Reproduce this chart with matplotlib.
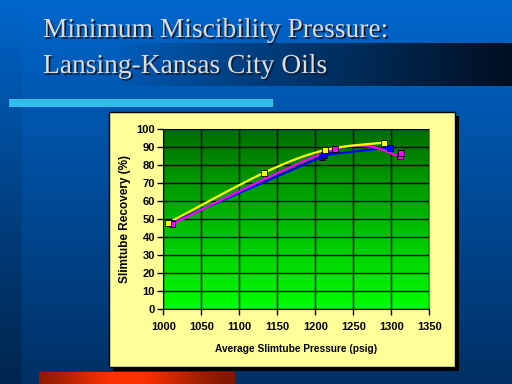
import matplotlib
matplotlib.use("Agg")
import matplotlib.pyplot as plt
import numpy as np
from matplotlib.path import Path
from matplotlib.patches import PathPatch, Rectangle
import matplotlib.patheffects as pe

# data
pressure_yellow = [1006, 1133, 1213, 1291]
recovery_yellow = [47.8, 75.9, 88.5, 92.6]
pressure_blue = [1010, 1209, 1211, 1298]
recovery_blue = [48.0, 84.8, 85.7, 89.8]
pressure_magenta = [1012, 1226, 1311, 1313]
recovery_magenta = [47.5, 88.9, 85.2, 87.0]

x_ticks = [1000, 1050, 1100, 1150, 1200, 1250, 1300, 1350]
y_ticks = [0, 10, 20, 30, 40, 50, 60, 70, 80, 90, 100]
title_lines = ["Minimum Miscibility Pressure:", "Lansing-Kansas City Oils"]
x_label = "Average Slimtube Pressure (psig)"
y_label = "Slimtube Recovery (%)"

W, H = 512, 384
fig = plt.figure(figsize=(W / 100, H / 100), dpi=100)

# slide background
bg = fig.add_axes([0, 0, 1, 1])
bg.set_xlim(0, W)
bg.set_ylim(H, 0)
bg.axis("off")
t = np.linspace(0, 1, H)[:, None]
top = np.array([0, 102, 204]) / 255
bot = np.array([0, 48, 100]) / 255
img = top[None, None, :] * (1 - t[..., None]) + bot[None, None, :] * t[..., None]
img = np.repeat(img, W, axis=1)
img[:, :22, :] *= np.linspace(1.0, 0.78, H)[:, None, None]
bg.imshow(img, extent=(0, W, H, 0), aspect="auto", zorder=0)

# title bar fading to black
xs = np.linspace(0, 1, 512 - 43)
fade = np.clip((xs - 0.15) / 0.85, 0, 1)
bar = np.zeros((1, len(xs), 4))
bar[0, :, 1] = 0.06
bar[0, :, 2] = 0.13
bar[0, :, 3] = fade ** 0.9
bg.imshow(bar, extent=(43, 512, 86, 43), aspect="auto", zorder=1)

for i, line in enumerate(title_lines):
    bg.text(43, 37 + 36 * i, line, family="Liberation Serif", fontsize=19.8,
            color="#DCDCDC", va="baseline", ha="left", zorder=3,
            path_effects=[pe.withSimplePatchShadow(offset=(1.2, -1.2),
                                                   shadow_rgbFace="#101830", alpha=1.0)])

# cyan strip
bg.add_patch(Rectangle((9, 99), 264, 8, color="#33BDEB", lw=0, zorder=2))

# orange bar at bottom
ox = np.linspace(0, 1, 200)
prof = np.exp(-((ox - 0.45) / 0.35) ** 2)
orange = np.zeros((1, 200, 3))
orange[0, :, 0] = 0.45 + 0.55 * prof
orange[0, :, 1] = 0.08 + 0.12 * prof
bg.imshow(orange, extent=(39, 235, 384, 372), aspect="auto", zorder=2)

# chart panel with shadow
bg.add_patch(Rectangle((113, 116), 346, 255, color="black", lw=0, zorder=4))
bg.add_patch(Rectangle((109, 112), 346, 255, facecolor="#FFFF99",
                       edgecolor="black", lw=1, zorder=5))

# plot area
L, R, T, B = 163.3, 429.3, 129.3, 309
ax = fig.add_axes([L / W, 1 - B / H, (R - L) / W, (B - T) / H])
ax.set_xlim(1000, 1350)
ax.set_ylim(0, 100)
g = np.linspace(0, 1, 256)[:, None]
green = np.zeros((256, 1, 3))
green[:, 0, 1] = 0.43 + 0.57 * g[:, 0]
ax.imshow(green, extent=(1000, 1350, 0, 100), aspect="auto", zorder=0)
ax.set_xticks(x_ticks)
ax.set_yticks(y_ticks)
ax.grid(True, color="black", lw=1, zorder=1)
ax.set_axisbelow(False)
for s in ["top", "right"]:
    ax.spines[s].set_color("#808080")
for s in ["left", "bottom"]:
    ax.spines[s].set_color("black")
ax.tick_params(direction="out", length=4, width=1, colors="black",
               labelsize=8, pad=2)
ax.tick_params(axis="x", pad=5)
for lab in ax.get_xticklabels() + ax.get_yticklabels():
    lab.set_fontweight("bold")
    lab.set_family("Liberation Sans")
ax.set_xlabel(x_label, fontsize=7.3, fontweight="bold", family="Liberation Sans", labelpad=9)
ax.set_ylabel(y_label, fontsize=8.5, fontweight="bold", family="Liberation Sans", labelpad=4)


def smooth_path(xv, yv):
    pts = np.column_stack([xv, yv]).astype(float)
    n = len(pts)
    verts = [pts[0]]
    codes = [Path.MOVETO]
    for i in range(n - 1):
        p0 = pts[i - 1] if i > 0 else pts[i]
        p1, p2 = pts[i], pts[i + 1]
        p3 = pts[i + 2] if i + 2 < n else pts[i + 1]
        c1 = p1 + (p2 - p0) / 6
        c2 = p2 - (p3 - p1) / 6
        verts += [c1, c2, p2]
        codes += [Path.CURVE4] * 3
    return Path(verts, codes)


series = [
    (pressure_blue, recovery_blue, "#0000FF"),
    (pressure_magenta, recovery_magenta, "#FF00FF"),
    (pressure_yellow, recovery_yellow, "#FFFF00"),
]
for xv, yv, c in series:
    ax.add_patch(PathPatch(smooth_path(xv, yv), facecolor="none", edgecolor=c,
                           lw=1.6, zorder=3))
for xv, yv, c in series:
    ax.plot(xv, yv, ls="none", marker="s", ms=5, mfc=c, mec="black",
            mew=0.6, zorder=4)

fig.savefig("out.png", dpi=100)
